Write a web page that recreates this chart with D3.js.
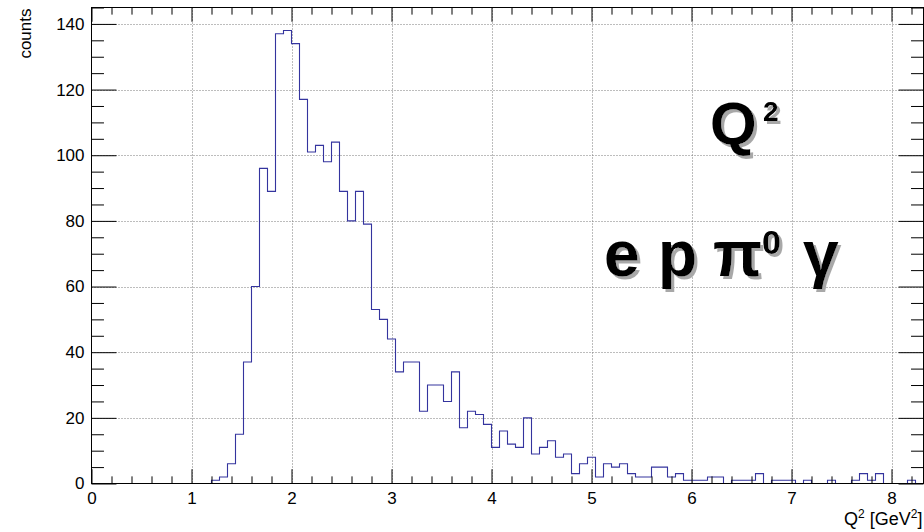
<!DOCTYPE html>
<html>
<head>
<meta charset="utf-8">
<script src="https://cdn.jsdelivr.net/npm/d3@7"></script>
<style>
  html, body { margin: 0; padding: 0; background: #fff; }
  svg { display: block; font-family: "Liberation Sans", Arial, Helvetica, sans-serif; }
</style>
</head>
<body>
<svg id="chart" width="924" height="532"></svg>
<script>
// Q^2 distribution: 104 bins of width 0.08 GeV^2 starting at 0
const binLow = 0;
const binWidth = 0.08;
const counts = [
  0, 0, 0, 0, 0, 0, 0, 0, 0, 0, 0, 0, 0, 0, 0,
  1, 2, 6, 15, 37, 60, 96, 89, 137, 138,
  134, 117, 101, 103, 98, 104, 89, 80, 89, 79,
  53, 50, 44, 34, 37, 37, 22, 30, 30, 25,
  34, 17, 22, 21, 18, 11, 16, 12, 11, 20,
  9, 11, 13, 8, 9, 3, 6, 8, 2, 6,
  5, 6, 3, 2, 2, 5, 5, 2, 3, 1,
  1, 1, 2, 2, 0, 1, 1, 1, 3, 0,
  1, 1, 1, 0, 1, 0, 0, 1, 0, 0,
  1, 3, 1, 3, 0, 0, 0, 1, 0
];
const xDomain = [0, 8.32];
const yDomain = [0, 145];
const xMajorTicks = [0, 1, 2, 3, 4, 5, 6, 7, 8];
const xMinorStep = 0.2;
const yMajorTicks = [0, 20, 40, 60, 80, 100, 120, 140];
const yMinorStep = 5;
const yTitle = "counts";
const titleParts = ["Q", "2"];
const channelParts = ["e", "p", "π", "0", "γ"];

const svg = d3.select("#chart");
const frameL = 91.5, frameR = 923.5, frameT = 7.5, frameB = 483.5;

// hard grey drop shadow for the large labels
svg.append("defs").append("filter").attr("id", "shadow")
  .attr("x", "-10%").attr("y", "-10%").attr("width", "130%").attr("height", "130%")
  .append("feDropShadow")
  .attr("dx", 3).attr("dy", 3).attr("stdDeviation", 0.4)
  .attr("flood-color", "#a8a8a8").attr("flood-opacity", 1);

const x = d3.scaleLinear().domain(xDomain).range([frameL, frameR]);
const y = d3.scaleLinear().domain(yDomain).range([frameB, frameT]);

const xMinor = d3.range(0, xDomain[1] + 1e-9, xMinorStep).map(v => +v.toFixed(2))
  .filter(v => Math.abs(v - Math.round(v)) > 1e-6);
const yMinor = d3.range(0, yDomain[1] + 1e-9, yMinorStep).filter(v => v % 20 !== 0);

// dotted grid at the major ticks
const grid = svg.append("g").attr("stroke", "#7a7a7a").attr("stroke-dasharray", "1,2").attr("stroke-width", 1);
grid.selectAll("line.gx").data(xMajorTicks.filter(v => v > 0)).join("line")
  .attr("x1", d => Math.round(x(d)) + 0.5).attr("x2", d => Math.round(x(d)) + 0.5)
  .attr("y1", frameT).attr("y2", frameB);
grid.selectAll("line.gy").data(yMajorTicks.filter(v => v > 0)).join("line")
  .attr("y1", d => Math.round(y(d)) + 0.5).attr("y2", d => Math.round(y(d)) + 0.5)
  .attr("x1", frameL).attr("x2", frameR);

// histogram outline as a step line
const pts = [[binLow, 0]];
counts.forEach((c, i) => {
  pts.push([binLow + i * binWidth, c]);
});
pts.push([binLow + counts.length * binWidth, counts[counts.length - 1]]);
pts.push([binLow + counts.length * binWidth, 0]);
const line = d3.line().x(d => x(d[0])).y(d => y(d[1])).curve(d3.curveStepAfter);
svg.append("path").datum(pts)
  .attr("d", line)
  .attr("fill", "none")
  .attr("stroke", "#34349e")
  .attr("stroke-width", 1.1);

// axes with ticks on all four sides
const xLen = 0.03 * (frameB - frameT);
const yLen = 0.03 * (frameR - frameL);
function styleAxis(g) {
  g.select(".domain").remove();
  g.selectAll(".tick line").attr("stroke", "#000");
  g.selectAll(".tick text").attr("fill", "#000").attr("font-size", 17)
    .attr("font-family", "'Liberation Sans', Arial, sans-serif");
}
svg.append("g").attr("transform", `translate(0,${frameB})`)
  .call(d3.axisBottom(x).tickValues(xMajorTicks).tickSize(-xLen).tickPadding(8).tickFormat(d3.format("d")))
  .call(styleAxis);
svg.append("g").attr("transform", `translate(0,${frameB})`)
  .call(d3.axisBottom(x).tickValues(xMinor).tickSize(-xLen / 2).tickFormat(""))
  .call(styleAxis);
svg.append("g").attr("transform", `translate(0,${frameT})`)
  .call(d3.axisTop(x).tickValues(xMajorTicks).tickSize(-xLen).tickFormat(""))
  .call(styleAxis);
svg.append("g").attr("transform", `translate(0,${frameT})`)
  .call(d3.axisTop(x).tickValues(xMinor).tickSize(-xLen / 2).tickFormat(""))
  .call(styleAxis);
svg.append("g").attr("transform", `translate(${frameL},0)`)
  .call(d3.axisLeft(y).tickValues(yMajorTicks).tickSize(-yLen).tickPadding(7).tickFormat(d3.format("d")))
  .call(styleAxis);
svg.append("g").attr("transform", `translate(${frameL},0)`)
  .call(d3.axisLeft(y).tickValues(yMinor).tickSize(-yLen / 2).tickFormat(""))
  .call(styleAxis);
svg.append("g").attr("transform", `translate(${frameR},0)`)
  .call(d3.axisRight(y).tickValues(yMajorTicks).tickSize(-yLen).tickFormat(""))
  .call(styleAxis);
svg.append("g").attr("transform", `translate(${frameR},0)`)
  .call(d3.axisRight(y).tickValues(yMinor).tickSize(-yLen / 2).tickFormat(""))
  .call(styleAxis);

// frame
svg.append("rect").attr("x", frameL).attr("y", frameT)
  .attr("width", frameR - frameL).attr("height", frameB - frameT)
  .attr("fill", "none").attr("stroke", "#000").attr("stroke-width", 1);

// axis titles
const xt = svg.append("text").attr("x", frameR - 1).attr("y", 525)
  .attr("text-anchor", "end").attr("font-size", 18).attr("fill", "#000");
xt.append("tspan").text("Q");
xt.append("tspan").attr("dy", -7).attr("font-size", 12).text("2");
xt.append("tspan").attr("dy", 7).text(" [GeV");
xt.append("tspan").attr("dy", -7).attr("font-size", 12).text("2");
xt.append("tspan").attr("dy", 7).text("]");

svg.append("text")
  .attr("transform", `translate(31,${frameT + 1}) rotate(-90)`)
  .attr("text-anchor", "end").attr("font-size", 17).attr("fill", "#000")
  .text(yTitle);

// large annotations; each piece is [text, x, baseline, size]
function annotate(pieces) {
  const g = svg.append("g").attr("fill", "#000").attr("font-weight", "bold")
    .attr("filter", "url(#shadow)");
  const t = g.append("text");
  pieces.forEach(([txt, px, py, size]) => {
    t.append("tspan").attr("x", px).attr("y", py).attr("font-size", size).text(txt);
  });
}
annotate([
  [titleParts[0], 710, 144, 60],
  [titleParts[1], 763, 121, 28]
]);
annotate([
  [channelParts[0], 604, 276, 64],
  [channelParts[1], 658, 276, 64],
  [channelParts[2], 713, 276, 64],
  [channelParts[3], 762, 254, 34],
  [channelParts[4], 803, 276, 64]
]);
</script>
</body>
</html>
